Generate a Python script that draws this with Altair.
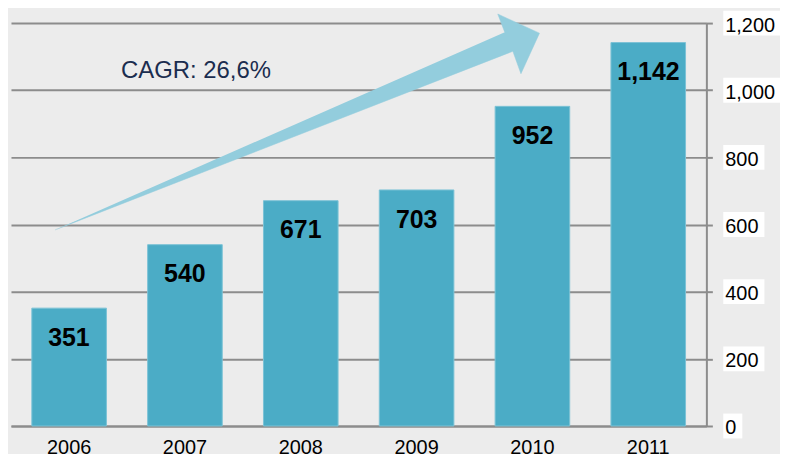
import altair as alt
import pandas as pd

# ---- data ----
years = ["2006", "2007", "2008", "2009", "2010", "2011"]
values = [351, 540, 671, 703, 952, 1142]
ticks = [0, 200, 400, 600, 800, 1000, 1200]
tick_labels = ["0", "200", "400", "600", "800", "1,000", "1,200"]

# arrow outline (x in year-index units, y in value units)
arrow_x = [-0.12, 3.83, 3.90, 4.06, 3.70, 3.76]
arrow_y = [584, 1116, 1049, 1170, 1227, 1173]
cagr_text = ["CAGR: 26,6%"]
cagr_x = [0.45]
cagr_y = [1058]

W, H = 699, 405
FONT = "Liberation Sans"
BAR = "#4bacc6"
GRID = "#8c8c8c"

bars_df = pd.DataFrame({"year": years, "value": values})
ticks_df = pd.DataFrame({"tick": ticks, "label": tick_labels})
arrow_df = pd.DataFrame({"i": list(range(len(arrow_x))), "x": arrow_x, "y": arrow_y})
cagr_df = pd.DataFrame({"t": cagr_text, "x": cagr_x, "y": cagr_y})

yscale = alt.Scale(domain=[0, 1200], nice=False, zero=True)
yaxis = alt.Axis(orient="right", values=ticks, labels=False, grid=True, title=None,
                 gridColor=GRID, gridWidth=2, domainColor=GRID, domainWidth=2,
                 tickColor=GRID, tickWidth=2, tickSize=6)
xband = alt.Scale(paddingInner=0.356, paddingOuter=0.18)

bars = alt.Chart(bars_df).mark_bar(color=BAR, stroke="#7cc3d6", strokeWidth=1).encode(
    x=alt.X("year:N", title=None, scale=xband,
            axis=alt.Axis(labelAngle=0, labelFontSize=20, labelFont=FONT, labelColor="#000000",
                          ticks=False, labelPadding=12, domainColor=GRID, domainWidth=2)),
    y=alt.Y("value:Q", title=None, scale=yscale, axis=yaxis),
)

bar_labels = alt.Chart(bars_df).mark_text(
    font=FONT, fontWeight="bold", fontSize=25, color="#000000",
    baseline="alphabetic", align="center", dy=38
).encode(
    x=alt.X("year:N", scale=xband, axis=None),
    y=alt.Y("value:Q", title=None, scale=yscale, axis=yaxis),
    text=alt.Text("value:Q", format=",d"),
)

xq = alt.Scale(domain=[-0.5, 5.5], nice=False, zero=False)

arrow = alt.Chart(arrow_df).mark_line(
    fill="#93cddd", stroke="#93cddd", strokeWidth=0.5, interpolate="linear"
).encode(
    x=alt.X("x:Q", scale=xq, axis=None),
    y=alt.Y("y:Q", title=None, scale=yscale, axis=yaxis),
    order="i:Q",
)

cagr = alt.Chart(cagr_df).mark_text(
    font=FONT, fontSize=24, color="#1b2d4f", align="left", baseline="middle"
).encode(
    x=alt.X("x:Q", scale=xq, axis=None),
    y=alt.Y("y:Q", title=None, scale=yscale, axis=yaxis),
    text="t:N",
)

# white boxes behind the right-hand tick labels
boxes = alt.Chart(ticks_df).transform_calculate(
    ndig="length(replace(datum.label, ',', ''))",
    ncom="length(datum.label) - length(replace(datum.label, ',', ''))",
).transform_calculate(
    bx0=f"{W + 17}",
    bx1=f"{W + 17} + 8 + 11.12 * datum.ndig + 5.56 * datum.ncom",
    y0="datum.tick - 37",
    y1="datum.tick + 37",
).mark_rect(color="white").encode(
    x=alt.X("bx0:Q", scale=None, axis=None),
    x2="bx1:Q",
    y=alt.Y("y0:Q", title=None, scale=yscale, axis=yaxis),
    y2="y1:Q",
)

tick_text = alt.Chart(ticks_df).mark_text(
    font=FONT, fontSize=20, color="#000000", align="left", baseline="alphabetic", dy=8.5
).encode(
    x=alt.value(W + 19),
    y=alt.Y("tick:Q", title=None, scale=yscale, axis=yaxis),
    text="label:N",
)

SVG_W, SVG_H = 776, 446
chart = alt.layer(bars, bar_labels, arrow, cagr, boxes, tick_text).resolve_scale(
    x="independent"
).properties(
    width=W, height=H,
    autosize=alt.AutoSizeParams(type="none"),
    padding={"left": 3, "top": 14, "right": SVG_W - 3 - W, "bottom": SVG_H - 14 - H},
    background="#ececec",
).configure_view(stroke=None)

chart.save("out.html", embed_options={"renderer": "svg", "actions": False})
